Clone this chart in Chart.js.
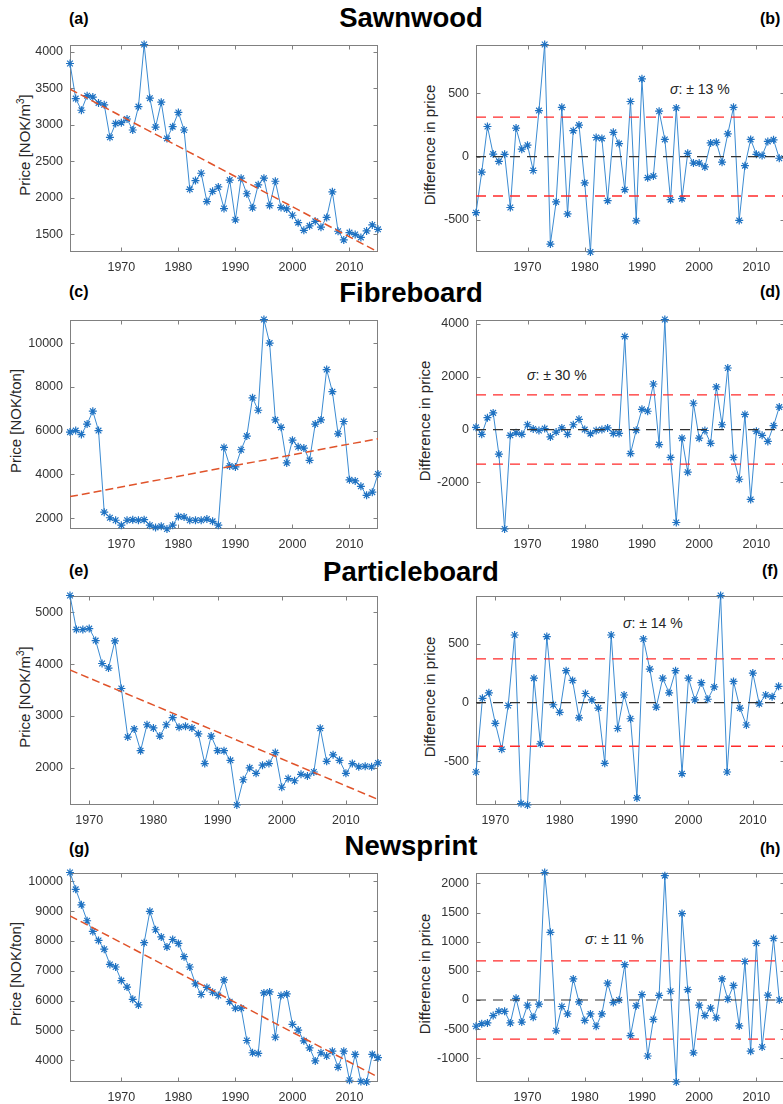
<!DOCTYPE html>
<html>
<head>
<meta charset="utf-8">
<script src="https://cdn.jsdelivr.net/npm/chart.js"></script>
<style>
  html, body { margin: 0; padding: 0; overflow: hidden; background: #fff; }
  body { position: relative; width: 783px; height: 1104px; font-family: "Liberation Sans", Arial, sans-serif; color: #262626; }
  .title { position: absolute; font-size: 27.5px; font-weight: bold; line-height: 1; white-space: nowrap; transform: translateX(-50%); color: #000; }
  .tag { position: absolute; font-size: 16px; font-weight: bold; line-height: 1; color: #000; }
  .ylab { position: absolute; font-size: 15px; white-space: nowrap; transform: translate(-50%, -50%) rotate(-90deg); color: #262626; }
  .ylab sup { font-size: 10px; vertical-align: 6px; line-height: 0; }
  .sigma { position: absolute; font-size: 14px; line-height: 1; white-space: nowrap; color: #262626; }
</style>
</head>
<body>
<div class="title" style="left:411px;top:4px">Sawnwood</div>
<div class="title" style="left:411px;top:279px">Fibreboard</div>
<div class="title" style="left:411px;top:558px">Particleboard</div>
<div class="title" style="left:411px;top:832px">Newsprint</div>

<div class="tag" style="left:69px;top:11px">(a)</div>
<div class="tag" style="left:760px;top:11px">(b)</div>
<div class="tag" style="left:69px;top:284px">(c)</div>
<div class="tag" style="left:760px;top:284px">(d)</div>
<div class="tag" style="left:69px;top:563px">(e)</div>
<div class="tag" style="left:762px;top:563px">(f)</div>
<div class="tag" style="left:69px;top:841px">(g)</div>
<div class="tag" style="left:760px;top:841px">(h)</div>

<div class="ylab" style="left:24px;top:145px">Price [NOK/m<sup>3</sup>]</div>
<div class="ylab" style="left:429px;top:145px">Difference in price</div>
<div class="ylab" style="left:15px;top:421px">Price [NOK/ton]</div>
<div class="ylab" style="left:424px;top:421px">Difference in price</div>
<div class="ylab" style="left:24px;top:697px">Price [NOK/m<sup>3</sup>]</div>
<div class="ylab" style="left:429px;top:697px">Difference in price</div>
<div class="ylab" style="left:15px;top:974px">Price [NOK/ton]</div>
<div class="ylab" style="left:424px;top:974px">Difference in price</div>

<div class="sigma" style="left:670px;top:82px"><i>σ</i>: ± 13 %</div>
<div class="sigma" style="left:527px;top:368px"><i>σ</i>: ± 30 %</div>
<div class="sigma" style="left:623px;top:616px"><i>σ</i>: ± 14 %</div>
<div class="sigma" style="left:585px;top:932px"><i>σ</i>: ± 11 %</div>

<script>
// years
const years = [1961,1962,1963,1964,1965,1966,1967,1968,1969,1970,
  1971,1972,1973,1974,1975,1976,1977,1978,1979,1980,
  1981,1982,1983,1984,1985,1986,1987,1988,1989,1990,
  1991,1992,1993,1994,1995,1996,1997,1998,1999,2000,
  2001,2002,2003,2004,2005,2006,2007,2008,2009,2010,
  2011,2012,2013,2014,2015];
const yearsPb = [1967,1968,1969,1970,
  1971,1972,1973,1974,1975,1976,1977,1978,1979,1980,
  1981,1982,1983,1984,1985,1986,1987,1988,1989,1990,
  1991,1992,1993,1994,1995,1996,1997,1998,1999,2000,
  2001,2002,2003,2004,2005,2006,2007,2008,2009,2010,
  2011,2012,2013,2014,2015];

// prices
const sawnwoodPrice = [3840,3360,3200,3400,3380,3300,3275,2830,3020,3030,
  3080,2930,3250,4100,3365,2970,3310,2815,2975,3170,
  2930,2118,2237,2338,1950,2090,2150,1855,2245,1700,
  2270,2057,1864,2180,2270,1895,2228,1868,1850,1763,
  1662,1557,1618,1680,1600,1733,2083,1544,1425,1526,
  1500,1460,1548,1630,1570];
const fibreboardPrice = [5930,6000,5820,6300,6890,6000,2270,2015,1900,1675,
  1900,1925,1900,1925,1675,1570,1630,1500,1675,2075,
  2045,1900,1900,1900,1955,1850,1675,5230,4385,4340,
  5125,5750,7500,6930,11080,10000,6490,6150,4520,5560,
  5260,5200,4640,6300,6490,8790,7780,5850,6415,3750,
  3700,3450,3040,3185,4015];
const particleboardPrice = [5326,4669,4669,4688,
  4456,4013,3925,4450,3531,2594,2750,2331,2831,2769,
  2613,2831,2969,2781,2800,2769,2656,2081,2613,2331,
  2331,2144,1282,1769,2000,1894,2050,2081,2294,1625,
  1794,1750,1875,1844,1919,2763,2125,2250,2144,1894,
  2081,2019,2031,2019,2094];
const newsprintPrice = [10293,9729,9208,8676,8318,8015,7722,7212,7125,6669,
  6452,6040,5855,7939,8991,8373,8134,7798,8047,7917,
  7472,7125,6561,6203,6441,6279,6170,6691,5964,5746,
  5746,4662,4250,4228,6257,6290,4771,6170,6224,5205,
  5009,4651,4413,3978,4250,4141,4304,3761,4304,3328,
  4196,3290,3270,4196,4087];

// differences in price (one value fewer than prices)
const sawnwoodDiff = [-444,-123,238,20,-38,18,-403,226,59,90,
  -110,364,887,-692,-359,390,-454,205,249,-208,
  -755,151,144,-349,192,103,-262,436,-508,615,
  -167,-154,359,136,-341,385,-333,26,-51,-51,
  -82,108,113,-44,180,390,-505,-72,136,18,
  8,120,133,-13];
const fibreboardDiff = [85,-182,448,630,-933,-3760,-218,-121,-182,182,
  24,-36,36,-279,-97,61,-182,182,388,0,
  -158,-36,0,61,-145,-145,3515,-909,-24,764,
  691,1721,-570,4160,-1055,-3515,-327,-1612,994,-327,
  -36,-521,1612,182,2327,-1055,-1879,570,-2642,-61,
  -218,-448,145,848];
const particleboardDiff = [-591,36,83,-177,
  -398,-25,575,-860,-872,207,-351,561,-19,-83,
  271,188,-130,77,22,-47,-517,575,-221,64,
  -138,-812,541,285,-39,207,83,271,-605,207,
  22,169,28,133,911,-591,180,-47,-191,251,
  -11,64,50,138];
const newsprintDiff = [-450,-406,-394,-267,-194,-194,-394,28,-378,-89,
  -294,-72,2188,1161,-528,-111,-239,361,-33,-350,
  -239,-450,-239,289,-44,0,606,-611,-100,94,
  -961,-333,78,2133,150,-1407,1483,178,-906,-89,
  -267,-139,-306,361,11,250,-444,661,-878,972,
  -806,83,1056,0];

// linear trend end points
const trendYears = [1961, 2015];
const trendYearsPb = [1967, 2015];
const sawnwoodTrend = [3490, 1260];
const fibreboardTrend = [2980, 5630];
const particleboardTrend = [3888, 1390];
const newsprintTrend = [8839, 3436];

// sigma bands
const sawnwoodSigma = 312;
const fibreboardSigma = 1310;
const particleboardSigma = 372;
const newsprintSigma = 672;

// tick labels
const xTicks = [1970, 1980, 1990, 2000, 2010];
const ticksA = [1500, 2000, 2500, 3000, 3500, 4000];
const ticksB = [-500, 0, 500];
const ticksC = [2000, 4000, 6000, 8000, 10000];
const ticksD = [-2000, 0, 2000, 4000];
const ticksE = [2000, 3000, 4000, 5000];
const ticksF = [-500, 0, 500];
const ticksG = [4000, 5000, 6000, 7000, 8000, 9000, 10000];
const ticksH = [-1000, -500, 0, 500, 1000, 1500, 2000];

Chart.defaults.font.family = '"Liberation Sans", Arial, sans-serif';
Chart.defaults.color = '#333333';

const BLUE_LINE = '#3b8bd2';
const BLUE_MARK = '#1f72c2';
const TREND = '#e0532a';
const SIGMA = '#ff2a2a';

function pts(xs, ys) {
  return ys.map((v, i) => ({ x: xs[i], y: v }));
}

// MATLAB-like frame with inward ticks on all four sides
const boxPlugin = {
  id: 'box',
  beforeDatasetsDraw(chart) {
    const { ctx, chartArea: a, scales } = chart;
    const L = Math.round(a.left) + 0.5, R = Math.round(a.right) - 0.5;
    const T = Math.round(a.top) + 0.5, B = Math.round(a.bottom) - 0.5;
    ctx.save();
    ctx.strokeStyle = '#808080';
    ctx.lineWidth = 1;
    ctx.strokeRect(L, T, R - L, B - T);
    ctx.beginPath();
    scales.x.ticks.forEach(t => {
      const px = Math.round(scales.x.getPixelForValue(t.value)) + 0.5;
      ctx.moveTo(px, B); ctx.lineTo(px, B - 4);
      ctx.moveTo(px, T); ctx.lineTo(px, T + 4);
    });
    scales.y.ticks.forEach(t => {
      const py = Math.round(scales.y.getPixelForValue(t.value)) + 0.5;
      ctx.moveTo(L, py); ctx.lineTo(L + 4, py);
      ctx.moveTo(R, py); ctx.lineTo(R - 4, py);
    });
    ctx.stroke();
    ctx.restore();
  }
};

function panel(p) {
  const YW = 60, XH = 30, PT = 8, PR = 8;
  const cv = document.createElement('canvas');
  cv.width = (p.right - p.left) + YW + PR;
  cv.height = (p.bottom - p.top) + PT + XH;
  cv.style.cssText = 'position:absolute;left:' + (p.left - YW) + 'px;top:' + (p.top - PT) +
    'px;width:' + cv.width + 'px;height:' + cv.height + 'px';
  document.body.appendChild(cv);

  const datasets = [{
    data: pts(p.years, p.values),
    borderColor: BLUE_LINE,
    borderWidth: 1,
    pointStyle: 'star',
    pointRadius: 4,
    pointBorderColor: BLUE_MARK,
    pointBackgroundColor: BLUE_MARK,
    pointBorderWidth: 1.2,
    tension: 0,
    clip: false,
    order: 2
  }];
  p.lines.forEach(l => datasets.push({
    data: pts(l.xs, l.ys),
    borderColor: l.color,
    borderWidth: l.width,
    borderDash: l.dash,
    pointRadius: 0,
    tension: 0,
    order: 1
  }));

  new Chart(cv, {
    type: 'line',
    data: { datasets },
    options: {
      responsive: false,
      animation: false,
      devicePixelRatio: 1,
      layout: { padding: { top: PT, right: PR, left: 0, bottom: 0 } },
      plugins: { legend: { display: false }, tooltip: { enabled: false } },
      scales: {
        x: {
          type: 'linear', min: p.xMin, max: p.xMax,
          grid: { display: false, drawTicks: false }, border: { display: false },
          afterBuildTicks: s => { s.ticks = xTicks.map(v => ({ value: v })); },
          afterFit: s => { s.height = XH; },
          ticks: { autoSkip: false, maxRotation: 0, padding: 8, font: { size: 12.5 }, callback: v => String(v) }
        },
        y: {
          type: 'linear', min: p.yMin, max: p.yMax,
          grid: { display: false, drawTicks: false }, border: { display: false },
          afterBuildTicks: s => { s.ticks = p.yTicks.map(v => ({ value: v })); },
          afterFit: s => { s.width = YW; },
          ticks: { autoSkip: false, padding: 7, font: { size: 12.5 }, callback: v => String(v) }
        }
      }
    },
    plugins: [boxPlugin]
  });
}

function trendLine(xs, ys) {
  return { xs: xs, ys: ys, color: TREND, width: 1.5, dash: [8, 4] };
}
function bandLines(xs, s) {
  return [
    { xs: xs, ys: [s, s], color: SIGMA, width: 1.3, dash: [10, 7] },
    { xs: xs, ys: [-s, -s], color: SIGMA, width: 1.3, dash: [10, 7] },
    { xs: xs, ys: [0, 0], color: '#333333', width: 1.2, dash: [10, 7] }
  ];
}

const L = { left: 70, right: 378 };
const R = { left: 476, right: 785 };
const rows = [
  { top: 38, bottom: 252 },
  { top: 313, bottom: 529 },
  { top: 589, bottom: 805 },
  { top: 866, bottom: 1082 }
];

// (a) / (b) Sawnwood
panel({ ...L, ...rows[0], xMin: 1961, xMax: 2015, yMin: 1260, yMax: 4100, yTicks: ticksA,
  years: years, values: sawnwoodPrice, lines: [trendLine(trendYears, sawnwoodTrend)] });
panel({ ...R, ...rows[0], xMin: 1961, xMax: 2015, yMin: -755, yMax: 887, yTicks: ticksB,
  years: years, values: sawnwoodDiff, lines: bandLines(trendYears, sawnwoodSigma) });

// (c) / (d) Fibreboard
panel({ ...L, ...rows[1], xMin: 1961, xMax: 2015, yMin: 1500, yMax: 11080, yTicks: ticksC,
  years: years, values: fibreboardPrice, lines: [trendLine(trendYears, fibreboardTrend)] });
panel({ ...R, ...rows[1], xMin: 1961, xMax: 2015, yMin: -3760, yMax: 4160, yTicks: ticksD,
  years: years, values: fibreboardDiff, lines: bandLines(trendYears, fibreboardSigma) });

// (e) / (f) Particleboard
panel({ ...L, ...rows[2], xMin: 1967, xMax: 2015, yMin: 1282, yMax: 5326, yTicks: ticksE,
  years: yearsPb, values: particleboardPrice, lines: [trendLine(trendYearsPb, particleboardTrend)] });
panel({ ...R, ...rows[2], xMin: 1967, xMax: 2015, yMin: -872, yMax: 911, yTicks: ticksF,
  years: yearsPb, values: particleboardDiff, lines: bandLines(trendYearsPb, particleboardSigma) });

// (g) / (h) Newsprint
panel({ ...L, ...rows[3], xMin: 1961, xMax: 2015, yMin: 3270, yMax: 10293, yTicks: ticksG,
  years: years, values: newsprintPrice, lines: [trendLine(trendYears, newsprintTrend)] });
panel({ ...R, ...rows[3], xMin: 1961, xMax: 2015, yMin: -1407, yMax: 2188, yTicks: ticksH,
  years: years, values: newsprintDiff, lines: bandLines(trendYears, newsprintSigma) });
</script>
</body>
</html>
